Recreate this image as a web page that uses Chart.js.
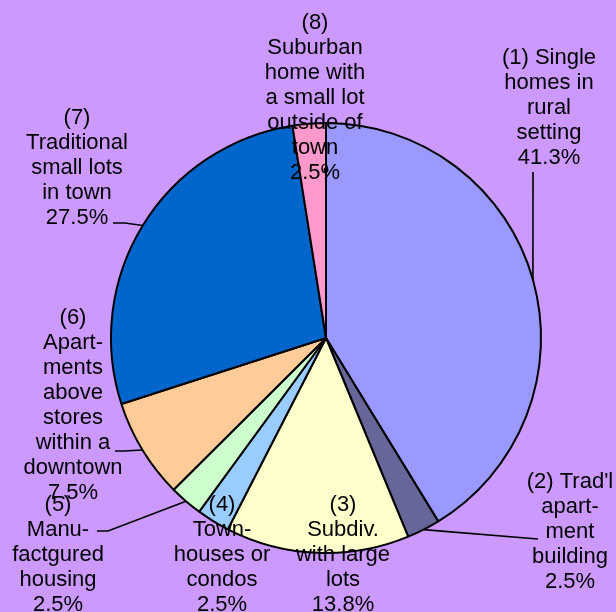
<!DOCTYPE html>
<html>
<head>
<meta charset="utf-8">
<script src="https://cdn.jsdelivr.net/npm/chart.js@4.4.1/dist/chart.umd.min.js"></script>
<style>
  html, body { margin: 0; padding: 0; background: #CC99FF; }
  #wrap { width: 616px; height: 612px; }
</style>
</head>
<body>
<div id="wrap"><canvas id="grafico"></canvas></div>
<script>
/*************  dados  ****************/
const categorias = [
    '(1) Single homes in rural setting',
    "(2) Trad'l apartment building",
    '(3) Subdiv. with large lots',
    '(4) Town-houses or condos',
    '(5) Manufactgured housing',
    '(6) Apartments above stores within a downtown',
    '(7) Traditional small lots in town',
    '(8) Suburban home with a small lot outside of town'
]
const valores = [41.3, 2.5, 13.8, 2.5, 2.5, 7.5, 27.5, 2.5]
const cores = ['#9999FF', '#666699', '#FFFFCC', '#99CCFF', '#CCFFCC', '#FFCC99', '#0066CC', '#FF99CC']

// texto de cada rotulo (a percentagem é juntada no fim)
const linhasRotulo = [
    ['(1) Single', 'homes in', 'rural', 'setting'],
    ["(2) Trad'l", 'apart-', 'ment', 'building'],
    ['(3)', 'Subdiv.', 'with large', 'lots'],
    ['(4)', 'Town-', 'houses or', 'condos'],
    ['(5)', 'Manu-', 'factgured', 'housing'],
    ['(6)', 'Apart-', 'ments', 'above', 'stores', 'within a', 'downtown'],
    ['(7)', 'Traditional', 'small lots', 'in town'],
    ['(8)', 'Suburban', 'home with', 'a small lot', 'outside of', 'town']
]

//*************  layout dos rotulos  ****************/
// centro x, y da primeira linha, e pontos da linha guia (do lado do texto)
const posRotulo = [
    { x: 549, y: 58, guia: [[533, 172]] },
    { x: 570, y: 482, guia: [[538, 539]] },
    { x: 343, y: 505, guia: null },
    { x: 222, y: 505, guia: null },
    { x: 58, y: 505, guia: [[97, 531], [108, 531]] },
    { x: 73, y: 318, guia: [[115, 451], [124, 451]] },
    { x: 77, y: 118, guia: [[113, 223], [125, 223]] },
    { x: 315, y: 23, guia: null }
]
const alturaLinha = 25

// plugin que desenha os rotulos e linhas guia
const rotulosPlugin = {
    id: 'rotulos',
    afterDraw(chart) {
        const ctx = chart.ctx
        const meta = chart.getDatasetMeta(0)
        ctx.save()
        ctx.strokeStyle = '#000'
        ctx.lineWidth = 1.6
        meta.data.forEach((arc, i) => {
            const pos = posRotulo[i]
            if (!pos.guia) return
            const meio = (arc.startAngle + arc.endAngle) / 2
            const ex = arc.x + Math.cos(meio) * arc.outerRadius
            const ey = arc.y + Math.sin(meio) * arc.outerRadius
            ctx.beginPath()
            ctx.moveTo(pos.guia[0][0], pos.guia[0][1])
            pos.guia.slice(1).forEach(p => ctx.lineTo(p[0], p[1]))
            ctx.lineTo(ex, ey)
            ctx.stroke()
        })

        ctx.fillStyle = '#000'
        ctx.font = '22px "Liberation Sans", Arial, sans-serif'
        ctx.textAlign = 'center'
        ctx.textBaseline = 'middle'
        linhasRotulo.forEach((linhas, i) => {
            const pos = posRotulo[i]
            const todas = linhas.concat([valores[i].toFixed(1) + '%'])
            todas.forEach((t, k) => ctx.fillText(t, pos.x, pos.y + k * alturaLinha))
        })
        // pequeno ponto no rotulo (8)
        ctx.beginPath()
        ctx.arc(326, 170, 2.5, 0, Math.PI * 2)
        ctx.fill()
        ctx.restore()
    }
}

new Chart(document.getElementById('grafico'), {
    type: 'pie',
    data: {
        labels: categorias,
        datasets: [{
            data: valores,
            backgroundColor: cores,
            borderColor: '#000',
            borderWidth: 2
        }]
    },
    options: {
        responsive: true,
        maintainAspectRatio: false,
        animation: false,
        layout: { padding: { left: 110, right: 74, top: 122, bottom: 58 } },
        plugins: {
            legend: { display: false },
            tooltip: { enabled: false }
        }
    },
    plugins: [rotulosPlugin]
})
</script>
</body>
</html>
